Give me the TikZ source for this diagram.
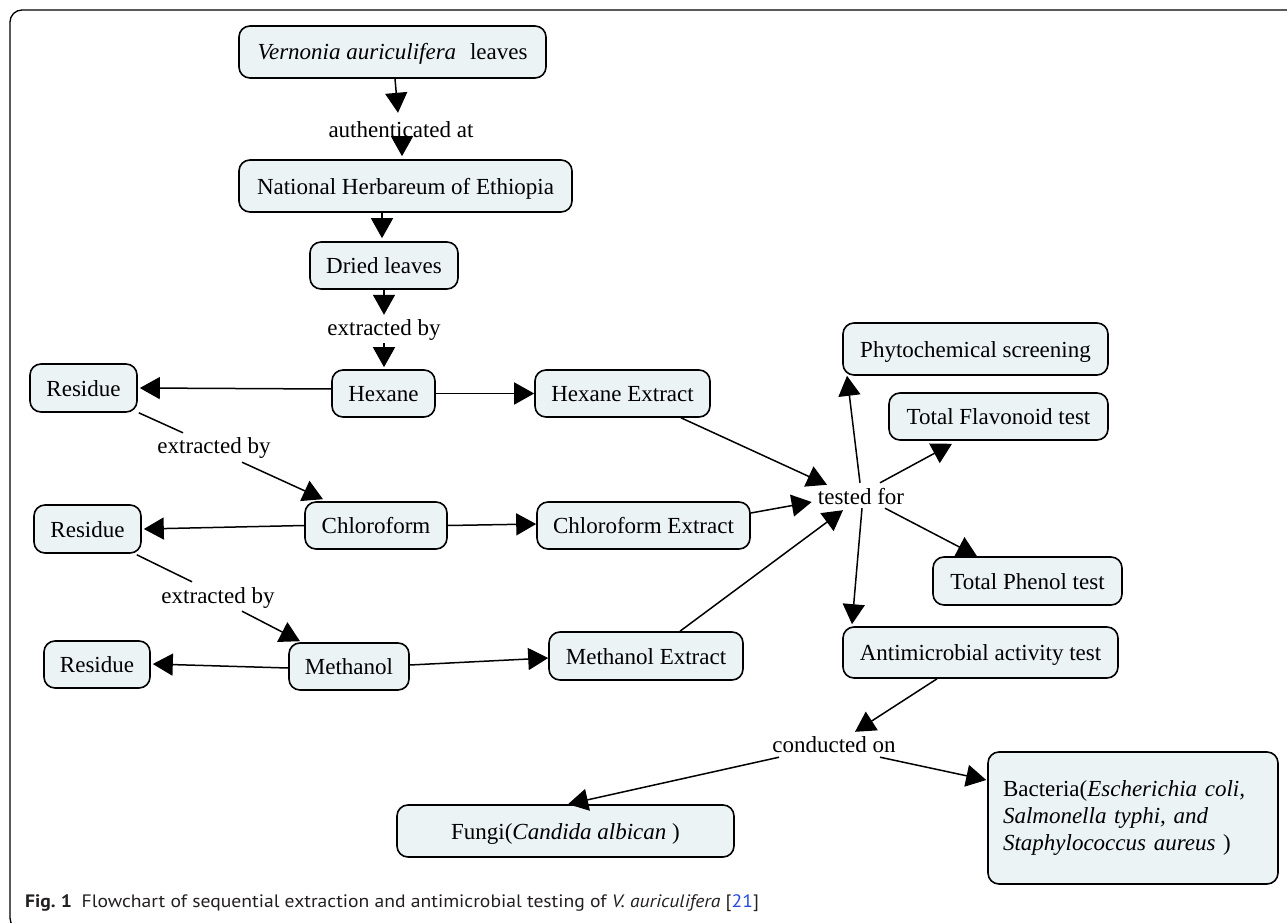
\documentclass[tikz,border=0pt]{standalone}
\usepackage{fontspec}
\usepackage{graphicx}
\setmainfont{Liberation Serif}
\newfontfamily\capfont{PT Sans}
\usetikzlibrary{arrows.meta,calc}
\definecolor{boxfill}{RGB}{235,243,245}
\definecolor{refblue}{RGB}{40,70,220}
\definecolor{capgray}{RGB}{35,31,32}
\begin{document}
\begin{tikzpicture}[x=1pt,y=-1pt,
  box/.style={draw=black, line width=1.6pt, fill=boxfill, rounded corners=11pt, inner sep=0pt,
    text height=18pt, text depth=2pt, font=\fontsize{23}{27}\selectfont, anchor=center},
  lbl/.style={inner sep=0pt, text height=18pt, text depth=2pt, font=\fontsize{23}{27}\selectfont},
  arr/.style={line width=1.5pt, -{Triangle[length=20pt,width=22pt]}},
  link/.style={line width=1.5pt}]
\useasboundingbox (0,0) rectangle (1287,923);
\begin{scope}
\clip (0,0) rectangle (1287,923);
\draw[line width=1.3pt, rounded corners=12pt] (1320,10) -- (10,10) -- (10,930) -- (200,930);
\end{scope}

% boxes
\node[box, minimum width=307pt, minimum height=52pt] (v) at (392.5,52) {\textit{Vernonia auriculifera}\hspace{0.6em}leaves};
\node[box, minimum width=333pt, minimum height=52pt] (nat) at (405.5,186) {National Herbareum of Ethiopia};
\node[box, minimum width=148pt, minimum height=47pt] (dried) at (384,265.5) {Dried leaves};
\node[box, minimum width=103pt, minimum height=47pt] (hex) at (383.5,393.5) {Hexane};
\node[box, minimum width=175pt, minimum height=47pt] (hexE) at (622.5,393.5) {Hexane Extract};
\node[box, minimum width=107pt, minimum height=48pt] (res1) at (83.5,388) {Residue};
\node[box, minimum width=142pt, minimum height=47pt] (chl) at (376,525.5) {Chloroform};
\node[box, minimum width=213pt, minimum height=47pt] (chlE) at (643.5,525.5) {Chloroform Extract};
\node[box, minimum width=107pt, minimum height=48pt] (res2) at (87.5,529) {Residue};
\node[box, minimum width=120pt, minimum height=47pt] (meth) at (349,666.5) {Methanol};
\node[box, minimum width=194pt, minimum height=48pt] (methE) at (646,656) {Methanol Extract};
\node[box, minimum width=106pt, minimum height=47pt] (res3) at (97,664.5) {Residue};
\node[box, minimum width=265pt, minimum height=52pt] (phy) at (975.5,349) {Phytochemical screening};
\node[box, minimum width=219pt, minimum height=47pt] (fla) at (998.5,416.5) {Total Flavonoid test};
\node[box, minimum width=189pt, minimum height=48pt] (phe) at (1027.5,581) {Total Phenol test};
\node[box, minimum width=275pt, minimum height=51pt] (anti) at (980.5,652.5) {Antimicrobial activity test};
\node[box, minimum width=337pt, minimum height=52pt] (fungi) at (565.5,831) {Fungi(\textit{Candida albican}\ )};
\node[box, minimum width=290pt, minimum height=132pt, text height=, text depth=, text width=260pt, align=left, inner xsep=15pt] (bac) at (1133,818)
  {Bacteria(\textit{Escherichia coli,}\\ \textit{Salmonella typhi, and}\\ \textit{Staphylococcus aureus}\ )};

% labels
\node[lbl] (auth) at (401,130) {authenticated at};
\node[lbl] (ext1) at (384,327) {extracted by};
\node[lbl] (ext2) at (214,445) {extracted by};
\node[lbl] (ext3) at (218,595) {extracted by};
\node[lbl] (tested) at (861,496) {tested for};
\node[lbl] (cond) at (834,744) {conducted on};

% connectors
\draw[arr] ($(v.south)+(2.5,0)$) -- ($(auth.north)+(-3,-7)$);
\draw[arr] ($(auth.south)+(1,-3)$) -- ($(nat.north)+(-3.5,-3)$);
\draw[arr] ($(nat.south)+(-23.5,0)$) -- ($(dried.north)+(-2,-3)$);
\draw[arr] (dried.south) -- ($(ext1.north)+(0,-2)$);
\draw[arr] ($(ext1.south)+(0,6)$) -- ($(hex.north)+(0.5,-2)$);
\draw[arr] ($(hex.west)+(1,-4.5)$) -- ($(res1.east)+(2,0)$);
\draw[arr] (hex.east) -- (hexE.west);
\draw[link] ($(res1.south east)+(1,0)$) -- ($(ext2.north)+(-31,-2)$);
\draw[arr] ($(ext2.south)+(28,7)$) -- ($(chl.north)+(-53,-2)$);
\draw[arr] (chl.west) -- ($(res2.east)+(2,0)$);
\draw[arr] (chl.east) -- ($(chlE.west)+(0,-1.5)$);
\draw[link] ($(res2.south east)+(-5,1)$) -- ($(ext3.north)+(-26,-3)$);
\draw[arr] ($(ext3.south)+(24,6)$) -- ($(meth.north)+(-49,-1)$);
\draw[arr] ($(meth.west)+(0,1.5)$) -- ($(res3.east)+(2,-0.5)$);
\draw[arr] ($(meth.east)+(0,-1.5)$) -- ($(methE.west)+(0,2)$);
\draw[arr] ($(hexE.south)+(58.5,0)$) -- ($(tested.north)+(-34,-1)$);
\draw[arr] ($(chlE.east)+(0,-12.5)$) -- ($(tested.west)+(-6,6)$);
\draw[arr] ($(methE.north)+(34,0)$) -- ($(tested.south)+(-18,4)$);
\draw[arr] ($(tested.north)+(-1,-3)$) -- ($(phy.south)+(-128.5,0)$);
\draw[arr] ($(tested.north)+(19,-3)$) -- ($(fla.south)+(-46.5,3)$);
\draw[arr] ($(tested.south)+(24,2)$) -- ($(phe.north)+(-50.5,0)$);
\draw[arr] ($(tested.south)+(1,2)$) -- ($(anti.north)+(-128.5,-2)$);
\draw[arr] ($(anti.south)+(-43.5,0)$) -- ($(cond.north)+(21,-2)$);
\draw[arr] ($(cond.south)+(-55,3)$) -- ($(fungi.north)+(2.5,0)$);
\draw[arr] ($(cond.south)+(46,3)$) -- ($(bac.west)+(-1,-38)$);

% caption
\node[anchor=west, inner sep=0pt, text=capgray, font=\capfont\fontsize{18}{21}\selectfont] (cap) at (25,903)
  {\scalebox{1.09}[1]{\textbf{Fig.~1}\hspace{9pt}Flowchart of sequential extraction and antimicrobial testing of \textit{V.~auriculifera} [{\color{refblue}21}]}};
\end{tikzpicture}
\end{document}
